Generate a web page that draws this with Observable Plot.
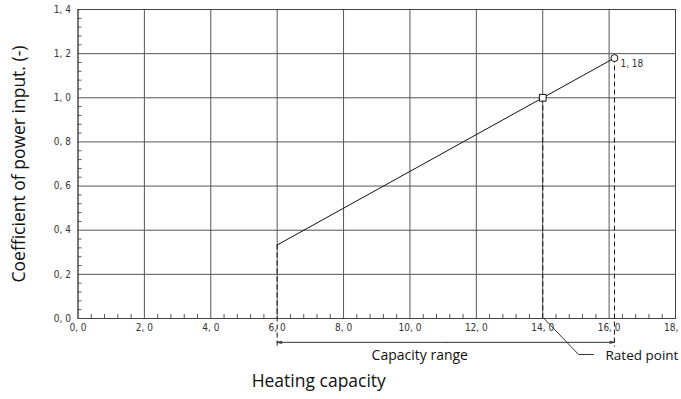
<!DOCTYPE html>
<html><head><meta charset="utf-8">
<script src="https://cdn.jsdelivr.net/npm/d3@7"></script>
<script src="https://cdn.jsdelivr.net/npm/@observablehq/plot@0.6"></script>
<style>body{margin:0;background:#fff;overflow:hidden}</style>
</head><body><div id="chart"></div>
<script>
// axis ticks
const xTicks = [0, 2, 4, 6, 8, 10, 12, 14, 16, 18];
const xTickLabels = ["0, 0","2, 0","4, 0","6, 0","8, 0","10, 0","12, 0","14, 0","16, 0","18, 0"];
const yTicks = [0, 0.2, 0.4, 0.6, 0.8, 1.0, 1.2, 1.4];
const yTickLabels = ["0, 0","0, 2","0, 4","0, 6","0, 8","1, 0","1, 2","1, 4"];
const xMinorStep = 0.4;
const yMinorStep = 0.04;

// curve (heating capacity -> coefficient of power input)
const capacity = [6.0, 14.0, 16.16];
const coefficient = [0.333, 1.0, 1.18];
const ratedIndex = 1;
const maxIndex = 2;
const maxLabel = "1, 18";

// annotations
const rangeLabel = "Capacity range";
const ratedLabel = "Rated point";
const xTitle = "Heating capacity";
const yTitle = "Coefficient of power input. (-)";
const extBottom = -0.13;   // extension lines end below axis
const arrowY = -0.108;     // dimension arrow level
const leaderKnee = {x: 15.08, y: -0.163};
const leaderEnd = {x: 15.53, y: -0.163};

const xMinor = d3.range(xMinorStep, 18, xMinorStep).filter(v => Math.abs(v/2 - Math.round(v/2)) > 1e-6);
const yMinor = d3.range(yMinorStep, 1.4, yMinorStep).filter(v => Math.abs(v/0.2 - Math.round(v/0.2)) > 1e-6);
const pts = capacity.map((x, i) => ({x, y: coefficient[i]}));
const rated = pts[ratedIndex], maxP = pts[maxIndex], minP = pts[0];
const mid = (minP.x + maxP.x) / 2;

const tickFont = "'Liberation Sans Narrow','DejaVu Sans Condensed',sans-serif";
const titleFont = "'Open Sans','Noto Sans',sans-serif";
const gridColor = "#555";

const chart = Plot.plot({
  width: 681, height: 399,
  marginLeft: 77.5, marginRight: 6, marginTop: 9, marginBottom: 81,
  x: {domain: [0, 18]},
  y: {domain: [0, 1.4]},
  style: {background: "#fff", overflow: "hidden"},
  marks: [
    Plot.ruleX(xTicks, {stroke: gridColor, strokeWidth: 1}),
    Plot.ruleY(yTicks, {stroke: gridColor, strokeWidth: 1}),
    Plot.frame({stroke: "#444"}),
    Plot.ruleX(xMinor, {y1: 0, y2: 0.018, stroke: gridColor}),
    Plot.ruleY(yMinor, {x1: 0, x2: 0.12, stroke: gridColor}),
    Plot.axisX({ticks: xTicks, tickSize: 0, tickPadding: 5, tickFormat: (d, i) => xTickLabels[i], fontSize: 10, fontFamily: tickFont, label: null, fill: "#333"}),
    Plot.axisY({ticks: yTicks, tickSize: 0, tickPadding: 7, tickFormat: (d, i) => yTickLabels[i], fontSize: 10, fontFamily: tickFont, label: null, fill: "#333"}),
    // curve
    Plot.line(pts, {x: "x", y: "y", stroke: "#111", strokeWidth: 1}),
    // extension (dashed) lines
    Plot.ruleX([minP], {x: "x", y1: "y", y2: extBottom, stroke: "#111", strokeDasharray: "5,3"}),
    Plot.ruleX([rated], {x: "x", y1: "y", y2: 0, stroke: "#111", strokeDasharray: "5,3"}),
    Plot.ruleX([maxP], {x: "x", y1: "y", y2: extBottom, stroke: "#111", strokeDasharray: "5,3"}),
    // markers
    Plot.dot([rated], {x: "x", y: "y", symbol: "square", r: 3.8, stroke: "#111", fill: "#fff", strokeWidth: 1}),
    Plot.dot([maxP], {x: "x", y: "y", r: 3.5, stroke: "#111", fill: "#fff", strokeWidth: 1}),
    Plot.text([maxP], {x: "x", y: "y", text: () => maxLabel, textAnchor: "start", dx: 6, dy: 6, fontSize: 10, fontFamily: tickFont, fill: "#333"}),
    // dimension arrow
    Plot.arrow([{x1: mid, x2: minP.x}, {x1: mid, x2: maxP.x}], {x1: "x1", x2: "x2", y1: arrowY, y2: arrowY, stroke: "#333", strokeWidth: 1, headLength: 7, headAngle: 25}),
    Plot.text([rangeLabel], {x: mid, y: arrowY, text: d => d, dx: -26, dy: 13, fontSize: 14, fontFamily: titleFont, fill: "#111"}),
    // leader to rated point
    Plot.line([{x: rated.x + 0.04, y: 0}, leaderKnee, leaderEnd], {x: "x", y: "y", stroke: "#333", strokeWidth: 1}),
    Plot.text([ratedLabel], {x: leaderEnd.x, y: leaderEnd.y, text: d => d, textAnchor: "start", dx: 12, dy: 1, fontSize: 13.5, fontFamily: titleFont, fill: "#111"}),
    // titles
    Plot.text([xTitle], {frameAnchor: "bottom", text: d => d, textAnchor: "middle", dx: -58, dy: 68, fontSize: 17.5, fontFamily: titleFont, fill: "#111"}),
    Plot.text([yTitle], {frameAnchor: "left", text: d => d, textAnchor: "middle", rotate: -90, dx: -59, dy: 0, fontSize: 17.5, fontFamily: titleFont, fill: "#111"})
  ]
});
document.getElementById("chart").append(chart);
</script></body></html>
